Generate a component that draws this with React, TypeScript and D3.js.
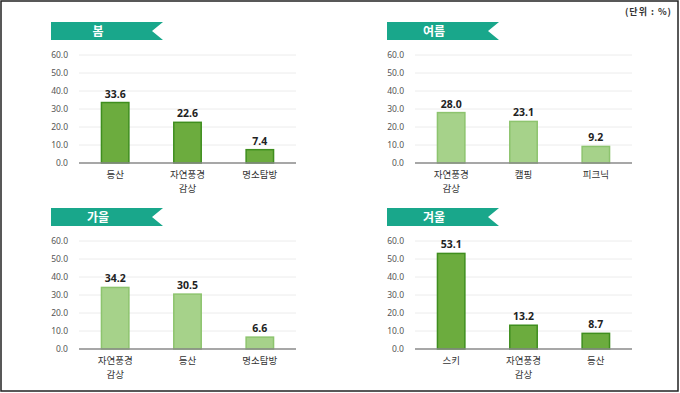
import React from "react";
import * as d3 from "d3";

const springCats = ["등산", "자연풍경|감상", "명소탐방"];
const springVals = [33.6, 22.6, 7.4];
const summerCats = ["자연풍경|감상", "캠핑", "피크닉"];
const summerVals = [28.0, 23.1, 9.2];
const fallCats = ["자연풍경|감상", "등산", "명소탐방"];
const fallVals = [34.2, 30.5, 6.6];
const winterCats = ["스키", "자연풍경|감상", "등산"];
const winterVals = [53.1, 13.2, 8.7];
const yTicks = [0, 10, 20, 30, 40, 50, 60];
const seasons = ["봄", "여름", "가을", "겨울"];
const unitLabel = "(단위 : %)";

const DARK = { fill: "#6cac3e", stroke: "#3f8e1e" };
const LIGHT = { fill: "#a6d28a", stroke: "#8dc46e" };
const KFONT = "'Noto Sans CJK KR', 'Noto Sans', sans-serif";

type PanelProps = {
  ox: number;
  oy: number;
  title: string;
  cats: string[];
  vals: number[];
  color: { fill: string; stroke: string };
};

function Panel({ ox, oy, title, cats, vals, color }: PanelProps) {
  const x0 = ox + 79;
  const x1 = ox + 296;
  const base = oy + 163;
  const top = oy + 55;
  const y = d3.scaleLinear().domain([0, 60]).range([base, top]);
  const xb = d3.scaleBand<string>().domain(cats).range([x0, x1]).paddingInner(0.6).paddingOuter(0.3);
  const bx0 = ox + 51;
  const bx1 = ox + 163;
  const by0 = oy + 22;
  const by1 = oy + 40;
  const banner = `M${bx0},${by0}L${bx1},${by0}L${bx1 - 11},${(by0 + by1) / 2}L${bx1},${by1}L${bx0},${by1}Z`;
  return (
    <g>
      <path d={banner} fill="#19a78b" />
      <text x={bx0 + 47} y={by0 + 13.5} fill="#fff" fontFamily={KFONT} fontWeight="bold" fontSize={12} textAnchor="middle">
        {title}
      </text>
      {yTicks.map((t) => (
        <g key={t}>
          {t > 0 && <line x1={x0} x2={x1} y1={y(t)} y2={y(t)} stroke="#ececec" strokeWidth={1} />}
          <text x={ox + 68} y={y(t) + 3} fontSize={8.5} fill="#555" textAnchor="end" fontFamily="'Noto Sans', sans-serif">
            {t.toFixed(1)}
          </text>
        </g>
      ))}
      {cats.map((c, i) => {
        const v = vals[i];
        const bx = xb(c)!;
        const w = xb.bandwidth();
        const lines = c.split("|");
        return (
          <g key={c}>
            <rect x={bx + 0.75} y={y(v)} width={w - 1.5} height={base - y(v)} fill={color.fill} stroke={color.stroke} strokeWidth={1.5} />
            <text x={bx + w / 2} y={y(v) - 5} textAnchor="middle" fontSize={10.5} fontWeight="bold" fill="#222" fontFamily="'Noto Sans', sans-serif">
              {v.toFixed(1)}
            </text>
            {lines.map((l, j) => (
              <text key={j} x={bx + w / 2} y={base + 15 + j * 14} textAnchor="middle" fontSize={9.5} fill="#333" fontFamily={KFONT}>
                {l}
              </text>
            ))}
          </g>
        );
      })}
      <line x1={x0} x2={x1} y1={base} y2={base} stroke="#8a8a8a" strokeWidth={1.5} />
    </g>
  );
}

export default function App() {
  return (
    <svg width={680} height={393} style={{ position: "absolute", left: 0, top: 0, background: "#fff" }}>
      <rect x={0} y={0} width={680} height={393} fill="#fff" />
      <rect x={1} y={1} width={677} height={390} fill="none" stroke="#222" strokeWidth={1.5} />
      <text x={672} y={15} textAnchor="end" fontSize={9} fontWeight="bold" fill="#333" fontFamily={KFONT} letterSpacing={1} style={{ whiteSpace: "pre" }}>
        {unitLabel}
      </text>
      <Panel ox={0} oy={0} title={seasons[0]} cats={springCats} vals={springVals} color={DARK} />
      <Panel ox={336} oy={0} title={seasons[1]} cats={summerCats} vals={summerVals} color={LIGHT} />
      <Panel ox={0} oy={186} title={seasons[2]} cats={fallCats} vals={fallVals} color={LIGHT} />
      <Panel ox={336} oy={186} title={seasons[3]} cats={winterCats} vals={winterVals} color={DARK} />
    </svg>
  );
}
